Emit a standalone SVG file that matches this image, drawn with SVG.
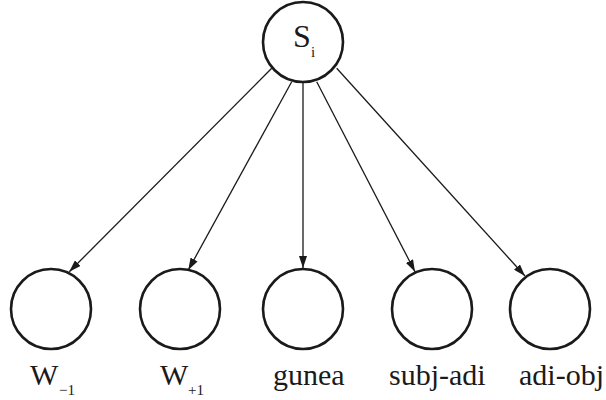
<svg xmlns="http://www.w3.org/2000/svg" width="606" height="400" viewBox="0 0 606 400">
  <style>
    .node { fill: #fff; stroke: #1a1a1a; stroke-width: 2.6; }
    .edge { stroke: #1a1a1a; stroke-width: 1.3; fill: none; marker-end: url(#arrow); }
    .lbl { font-family: 'Liberation Serif', serif; font-size: 30px; fill: #1a1a1a; }
    .big { font-family: 'Liberation Serif', serif; font-size: 32px; fill: #1a1a1a; }
    .sub { font-family: 'Liberation Serif', serif; font-size: 15px; fill: #1a1a1a; }
  </style>
  <defs>
    <marker id="arrow" markerWidth="12" markerHeight="8" refX="12" refY="4" orient="auto" markerUnits="userSpaceOnUse">
      <path d="M0,0 L12,4 L0,8 Z" fill="#1a1a1a"/>
    </marker>
  </defs>
  <rect width="606" height="400" fill="#fff"/>

  <g id="connectors">
    <line class="edge" x1="271.7" y1="68.3" x2="69.3" y2="271.7"/>
    <line class="edge" x1="291.7" y1="81.7" x2="188.3" y2="270"/>
    <line class="edge" x1="303" y1="82.5" x2="303" y2="268"/>
    <line class="edge" x1="316.7" y1="81.7" x2="415" y2="271.7"/>
    <line class="edge" x1="336.7" y1="68.3" x2="525" y2="276"/>
  </g>

  <g id="node-s">
    <circle class="node" cx="303" cy="42" r="40"/>
    <text class="big" x="293" y="47">S</text>
    <text class="sub" x="311" y="57">i</text>
  </g>

  <g id="node-w-minus1">
    <circle class="node" cx="51" cy="309" r="40"/>
    <text class="lbl" x="30" y="385">W</text>
    <text class="sub" x="59" y="395">−1</text>
  </g>

  <g id="node-w-plus1">
    <circle class="node" cx="180" cy="309" r="40"/>
    <text class="lbl" x="160" y="385">W</text>
    <text class="sub" x="188" y="395">+1</text>
  </g>

  <g id="node-gunea">
    <circle class="node" cx="303" cy="309" r="40"/>
    <text class="lbl" x="273" y="385">gunea</text>
  </g>

  <g id="node-subj-adi">
    <circle class="node" cx="432" cy="309" r="40"/>
    <text class="lbl" x="389" y="385">subj-adi</text>
  </g>

  <g id="node-adi-obj">
    <circle class="node" cx="550" cy="309" r="40"/>
    <text class="lbl" x="519" y="385">adi-obj</text>
  </g>
</svg>
